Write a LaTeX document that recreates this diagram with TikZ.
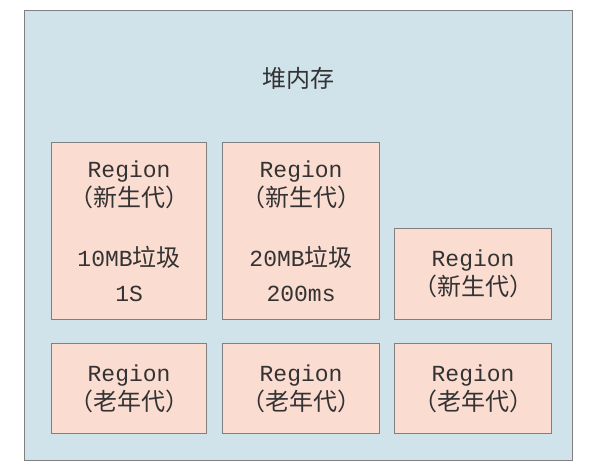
\documentclass[tikz,border=0pt]{standalone}
\usepackage{fontspec}
\setmainfont{Liberation Mono}
\newfontfamily\cjk{Noto Sans CJK SC}
\definecolor{heapblue}{RGB}{208,226,234}
\definecolor{regpeach}{RGB}{251,220,209}
\definecolor{edgegray}{RGB}{128,128,128}
\newcommand{\zh}[1]{{\cjk\fontsize{24}{29}\selectfont #1}}
\begin{document}
\begin{tikzpicture}[x=1pt,y=-1pt,
  heapbox/.style={draw=edgegray, fill=heapblue, line width=1.2pt, inner sep=0pt},
  regbox/.style={draw=edgegray, fill=regpeach, line width=1.2pt, align=center, inner sep=0pt,
    text=black!80, font=\fontsize{23}{29}\selectfont},
  titletext/.style={text=black!80, inner sep=0pt}]
\useasboundingbox (0,0) rectangle (592,474);
\node[heapbox, anchor=north west, minimum width=548pt, minimum height=450pt] (heap) at (24,10) {};
\node[titletext] (title) at (298,78) {\zh{堆内存}};
\node[regbox, anchor=north west, minimum width=155pt, minimum height=177pt] (y1) at (51,142)
  {Region\\\zh{（新生代）}\\[31pt]10MB\zh{垃圾}\\[6pt]1S};
\node[regbox, anchor=north west, minimum width=157pt, minimum height=177pt] (y2) at (222,142)
  {Region\\\zh{（新生代）}\\[31pt]20MB\zh{垃圾}\\[6pt]200ms};
\node[regbox, anchor=north west, minimum width=157pt, minimum height=91pt] (y3) at (394,228)
  {Region\\\zh{（新生代）}};
\node[regbox, anchor=north west, minimum width=155pt, minimum height=90pt] (o1) at (51,343)
  {Region\\\zh{（老年代）}};
\node[regbox, anchor=north west, minimum width=157pt, minimum height=90pt] (o2) at (222,343)
  {Region\\\zh{（老年代）}};
\node[regbox, anchor=north west, minimum width=157pt, minimum height=90pt] (o3) at (394,343)
  {Region\\\zh{（老年代）}};
\end{tikzpicture}
\end{document}
